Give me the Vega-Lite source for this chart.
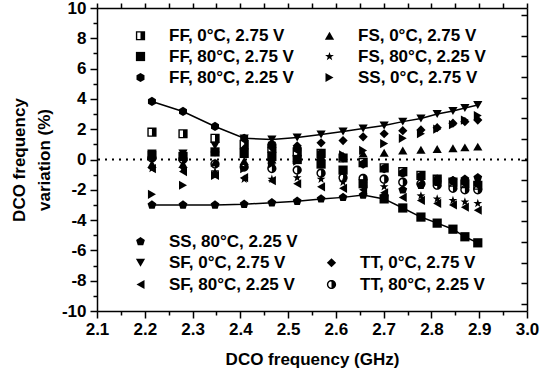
{
"$schema": "https://vega.github.io/schema/vega-lite/v6.json",
"width": 430, "height": 303,
"autosize": {"type": "none"},
"padding": {"left": 97, "top": 8, "right": 23, "bottom": 64},
"background": "white",
"datasets": {
"pts": [
{"x":2.215,"y":1.8,"s":"FF, 0°C, 2.75 V"},{"x":2.28,"y":1.7,"s":"FF, 0°C, 2.75 V"},{"x":2.347,"y":1.4,"s":"FF, 0°C, 2.75 V"},{"x":2.408,"y":1.0,"s":"FF, 0°C, 2.75 V"},{"x":2.466,"y":0.75,"s":"FF, 0°C, 2.75 V"},{"x":2.519,"y":0.5,"s":"FF, 0°C, 2.75 V"},{"x":2.569,"y":0.4,"s":"FF, 0°C, 2.75 V"},{"x":2.615,"y":0.1,"s":"FF, 0°C, 2.75 V"},{"x":2.657,"y":-0.2,"s":"FF, 0°C, 2.75 V"},{"x":2.701,"y":-0.55,"s":"FF, 0°C, 2.75 V"},{"x":2.74,"y":-0.8,"s":"FF, 0°C, 2.75 V"},{"x":2.778,"y":-1.05,"s":"FF, 0°C, 2.75 V"},{"x":2.812,"y":-1.3,"s":"FF, 0°C, 2.75 V"},{"x":2.845,"y":-1.5,"s":"FF, 0°C, 2.75 V"},{"x":2.87,"y":-1.6,"s":"FF, 0°C, 2.75 V"},{"x":2.897,"y":-1.7,"s":"FF, 0°C, 2.75 V"},
{"x":2.215,"y":0.3,"s":"FF, 80°C, 2.75 V"},{"x":2.28,"y":0.2,"s":"FF, 80°C, 2.75 V"},{"x":2.347,"y":0.5,"s":"FF, 80°C, 2.75 V"},{"x":2.408,"y":0.4,"s":"FF, 80°C, 2.75 V"},{"x":2.466,"y":0.2,"s":"FF, 80°C, 2.75 V"},{"x":2.519,"y":0.0,"s":"FF, 80°C, 2.75 V"},{"x":2.569,"y":-0.3,"s":"FF, 80°C, 2.75 V"},{"x":2.615,"y":-0.7,"s":"FF, 80°C, 2.75 V"},{"x":2.657,"y":-1.6,"s":"FF, 80°C, 2.75 V"},{"x":2.701,"y":-2.6,"s":"FF, 80°C, 2.75 V"},{"x":2.74,"y":-3.2,"s":"FF, 80°C, 2.75 V"},{"x":2.778,"y":-3.8,"s":"FF, 80°C, 2.75 V"},{"x":2.812,"y":-4.2,"s":"FF, 80°C, 2.75 V"},{"x":2.845,"y":-4.6,"s":"FF, 80°C, 2.75 V"},{"x":2.87,"y":-5.1,"s":"FF, 80°C, 2.75 V"},{"x":2.897,"y":-5.5,"s":"FF, 80°C, 2.75 V"},
{"x":2.215,"y":3.83,"s":"FF, 80°C, 2.25 V"},{"x":2.28,"y":3.17,"s":"FF, 80°C, 2.25 V"},{"x":2.347,"y":2.18,"s":"FF, 80°C, 2.25 V"},{"x":2.408,"y":1.4,"s":"FF, 80°C, 2.25 V"},{"x":2.466,"y":1.0,"s":"FF, 80°C, 2.25 V"},{"x":2.519,"y":0.7,"s":"FF, 80°C, 2.25 V"},{"x":2.569,"y":0.4,"s":"FF, 80°C, 2.25 V"},{"x":2.615,"y":0.1,"s":"FF, 80°C, 2.25 V"},{"x":2.657,"y":-0.3,"s":"FF, 80°C, 2.25 V"},{"x":2.701,"y":-0.6,"s":"FF, 80°C, 2.25 V"},{"x":2.74,"y":-0.9,"s":"FF, 80°C, 2.25 V"},{"x":2.778,"y":-1.1,"s":"FF, 80°C, 2.25 V"},{"x":2.812,"y":-1.3,"s":"FF, 80°C, 2.25 V"},{"x":2.845,"y":-1.4,"s":"FF, 80°C, 2.25 V"},{"x":2.87,"y":-1.5,"s":"FF, 80°C, 2.25 V"},{"x":2.897,"y":-1.6,"s":"FF, 80°C, 2.25 V"},
{"x":2.215,"y":-0.3,"s":"FS, 0°C, 2.75 V"},{"x":2.28,"y":-0.3,"s":"FS, 0°C, 2.75 V"},{"x":2.347,"y":-0.2,"s":"FS, 0°C, 2.75 V"},{"x":2.408,"y":-0.1,"s":"FS, 0°C, 2.75 V"},{"x":2.466,"y":0.0,"s":"FS, 0°C, 2.75 V"},{"x":2.519,"y":0.1,"s":"FS, 0°C, 2.75 V"},{"x":2.569,"y":0.2,"s":"FS, 0°C, 2.75 V"},{"x":2.615,"y":0.25,"s":"FS, 0°C, 2.75 V"},{"x":2.657,"y":0.4,"s":"FS, 0°C, 2.75 V"},{"x":2.701,"y":0.45,"s":"FS, 0°C, 2.75 V"},{"x":2.74,"y":0.6,"s":"FS, 0°C, 2.75 V"},{"x":2.778,"y":0.65,"s":"FS, 0°C, 2.75 V"},{"x":2.812,"y":0.7,"s":"FS, 0°C, 2.75 V"},{"x":2.845,"y":0.75,"s":"FS, 0°C, 2.75 V"},{"x":2.87,"y":0.8,"s":"FS, 0°C, 2.75 V"},{"x":2.897,"y":0.85,"s":"FS, 0°C, 2.75 V"},
{"x":2.215,"y":-0.6,"s":"FS, 80°C, 2.25 V"},{"x":2.28,"y":-0.6,"s":"FS, 80°C, 2.25 V"},{"x":2.347,"y":-0.8,"s":"FS, 80°C, 2.25 V"},{"x":2.408,"y":-1.3,"s":"FS, 80°C, 2.25 V"},{"x":2.466,"y":-1.3,"s":"FS, 80°C, 2.25 V"},{"x":2.519,"y":-1.2,"s":"FS, 80°C, 2.25 V"},{"x":2.569,"y":-1.3,"s":"FS, 80°C, 2.25 V"},{"x":2.615,"y":-1.5,"s":"FS, 80°C, 2.25 V"},{"x":2.657,"y":-1.6,"s":"FS, 80°C, 2.25 V"},{"x":2.701,"y":-1.8,"s":"FS, 80°C, 2.25 V"},{"x":2.74,"y":-2.0,"s":"FS, 80°C, 2.25 V"},{"x":2.778,"y":-2.4,"s":"FS, 80°C, 2.25 V"},{"x":2.812,"y":-2.6,"s":"FS, 80°C, 2.25 V"},{"x":2.845,"y":-2.7,"s":"FS, 80°C, 2.25 V"},{"x":2.87,"y":-2.8,"s":"FS, 80°C, 2.25 V"},{"x":2.897,"y":-2.9,"s":"FS, 80°C, 2.25 V"},
{"x":2.215,"y":-2.3,"s":"SS, 0°C, 2.75 V"},{"x":2.28,"y":-1.7,"s":"SS, 0°C, 2.75 V"},{"x":2.347,"y":-1.05,"s":"SS, 0°C, 2.75 V"},{"x":2.408,"y":-0.6,"s":"SS, 0°C, 2.75 V"},{"x":2.466,"y":-0.3,"s":"SS, 0°C, 2.75 V"},{"x":2.519,"y":-0.1,"s":"SS, 0°C, 2.75 V"},{"x":2.569,"y":0.1,"s":"SS, 0°C, 2.75 V"},{"x":2.615,"y":0.3,"s":"SS, 0°C, 2.75 V"},{"x":2.657,"y":0.6,"s":"SS, 0°C, 2.75 V"},{"x":2.701,"y":1.05,"s":"SS, 0°C, 2.75 V"},{"x":2.74,"y":1.4,"s":"SS, 0°C, 2.75 V"},{"x":2.778,"y":1.7,"s":"SS, 0°C, 2.75 V"},{"x":2.812,"y":2.0,"s":"SS, 0°C, 2.75 V"},{"x":2.845,"y":2.3,"s":"SS, 0°C, 2.75 V"},{"x":2.87,"y":2.6,"s":"SS, 0°C, 2.75 V"},{"x":2.897,"y":2.9,"s":"SS, 0°C, 2.75 V"},
{"x":2.215,"y":-3.0,"s":"SS, 80°C, 2.25 V"},{"x":2.28,"y":-3.0,"s":"SS, 80°C, 2.25 V"},{"x":2.347,"y":-3.0,"s":"SS, 80°C, 2.25 V"},{"x":2.408,"y":-2.95,"s":"SS, 80°C, 2.25 V"},{"x":2.466,"y":-2.85,"s":"SS, 80°C, 2.25 V"},{"x":2.519,"y":-2.75,"s":"SS, 80°C, 2.25 V"},{"x":2.569,"y":-2.6,"s":"SS, 80°C, 2.25 V"},{"x":2.615,"y":-2.5,"s":"SS, 80°C, 2.25 V"},{"x":2.657,"y":-2.35,"s":"SS, 80°C, 2.25 V"},{"x":2.701,"y":-2.45,"s":"SS, 80°C, 2.25 V"},{"x":2.74,"y":-2.0,"s":"SS, 80°C, 2.25 V"},{"x":2.778,"y":-1.7,"s":"SS, 80°C, 2.25 V"},{"x":2.812,"y":-1.5,"s":"SS, 80°C, 2.25 V"},{"x":2.845,"y":-1.4,"s":"SS, 80°C, 2.25 V"},{"x":2.87,"y":-1.3,"s":"SS, 80°C, 2.25 V"},{"x":2.897,"y":-1.2,"s":"SS, 80°C, 2.25 V"},
{"x":2.215,"y":0.4,"s":"SF, 0°C, 2.75 V"},{"x":2.28,"y":0.4,"s":"SF, 0°C, 2.75 V"},{"x":2.347,"y":0.9,"s":"SF, 0°C, 2.75 V"},{"x":2.408,"y":1.39,"s":"SF, 0°C, 2.75 V"},{"x":2.466,"y":1.32,"s":"SF, 0°C, 2.75 V"},{"x":2.519,"y":1.45,"s":"SF, 0°C, 2.75 V"},{"x":2.569,"y":1.65,"s":"SF, 0°C, 2.75 V"},{"x":2.615,"y":1.85,"s":"SF, 0°C, 2.75 V"},{"x":2.657,"y":2.05,"s":"SF, 0°C, 2.75 V"},{"x":2.701,"y":2.24,"s":"SF, 0°C, 2.75 V"},{"x":2.74,"y":2.5,"s":"SF, 0°C, 2.75 V"},{"x":2.778,"y":2.7,"s":"SF, 0°C, 2.75 V"},{"x":2.812,"y":3.0,"s":"SF, 0°C, 2.75 V"},{"x":2.845,"y":3.2,"s":"SF, 0°C, 2.75 V"},{"x":2.87,"y":3.4,"s":"SF, 0°C, 2.75 V"},{"x":2.897,"y":3.6,"s":"SF, 0°C, 2.75 V"},
{"x":2.215,"y":-0.6,"s":"SF, 80°C, 2.25 V"},{"x":2.28,"y":-0.8,"s":"SF, 80°C, 2.25 V"},{"x":2.347,"y":-1.05,"s":"SF, 80°C, 2.25 V"},{"x":2.408,"y":-1.2,"s":"SF, 80°C, 2.25 V"},{"x":2.466,"y":-1.4,"s":"SF, 80°C, 2.25 V"},{"x":2.519,"y":-1.6,"s":"SF, 80°C, 2.25 V"},{"x":2.569,"y":-1.8,"s":"SF, 80°C, 2.25 V"},{"x":2.615,"y":-1.9,"s":"SF, 80°C, 2.25 V"},{"x":2.657,"y":-2.0,"s":"SF, 80°C, 2.25 V"},{"x":2.701,"y":-2.2,"s":"SF, 80°C, 2.25 V"},{"x":2.74,"y":-2.5,"s":"SF, 80°C, 2.25 V"},{"x":2.778,"y":-2.7,"s":"SF, 80°C, 2.25 V"},{"x":2.812,"y":-2.9,"s":"SF, 80°C, 2.25 V"},{"x":2.845,"y":-3.0,"s":"SF, 80°C, 2.25 V"},{"x":2.87,"y":-3.15,"s":"SF, 80°C, 2.25 V"},{"x":2.897,"y":-3.35,"s":"SF, 80°C, 2.25 V"},
{"x":2.215,"y":0.1,"s":"TT, 0°C, 2.75 V"},{"x":2.28,"y":0.1,"s":"TT, 0°C, 2.75 V"},{"x":2.347,"y":0.5,"s":"TT, 0°C, 2.75 V"},{"x":2.408,"y":0.7,"s":"TT, 0°C, 2.75 V"},{"x":2.466,"y":0.8,"s":"TT, 0°C, 2.75 V"},{"x":2.519,"y":0.9,"s":"TT, 0°C, 2.75 V"},{"x":2.569,"y":1.1,"s":"TT, 0°C, 2.75 V"},{"x":2.615,"y":1.25,"s":"TT, 0°C, 2.75 V"},{"x":2.657,"y":1.5,"s":"TT, 0°C, 2.75 V"},{"x":2.701,"y":1.7,"s":"TT, 0°C, 2.75 V"},{"x":2.74,"y":1.9,"s":"TT, 0°C, 2.75 V"},{"x":2.778,"y":1.95,"s":"TT, 0°C, 2.75 V"},{"x":2.812,"y":2.1,"s":"TT, 0°C, 2.75 V"},{"x":2.845,"y":2.4,"s":"TT, 0°C, 2.75 V"},{"x":2.87,"y":2.5,"s":"TT, 0°C, 2.75 V"},{"x":2.897,"y":2.6,"s":"TT, 0°C, 2.75 V"},
{"x":2.215,"y":0.1,"s":"TT, 80°C, 2.25 V"},{"x":2.28,"y":0.0,"s":"TT, 80°C, 2.25 V"},{"x":2.347,"y":-0.3,"s":"TT, 80°C, 2.25 V"},{"x":2.408,"y":-0.5,"s":"TT, 80°C, 2.25 V"},{"x":2.466,"y":-0.6,"s":"TT, 80°C, 2.25 V"},{"x":2.519,"y":-0.7,"s":"TT, 80°C, 2.25 V"},{"x":2.569,"y":-0.9,"s":"TT, 80°C, 2.25 V"},{"x":2.615,"y":-1.2,"s":"TT, 80°C, 2.25 V"},{"x":2.657,"y":-1.25,"s":"TT, 80°C, 2.25 V"},{"x":2.701,"y":-1.3,"s":"TT, 80°C, 2.25 V"},{"x":2.74,"y":-1.5,"s":"TT, 80°C, 2.25 V"},{"x":2.778,"y":-1.6,"s":"TT, 80°C, 2.25 V"},{"x":2.812,"y":-1.7,"s":"TT, 80°C, 2.25 V"},{"x":2.845,"y":-1.9,"s":"TT, 80°C, 2.25 V"},{"x":2.87,"y":-2.0,"s":"TT, 80°C, 2.25 V"},{"x":2.897,"y":-2.0,"s":"TT, 80°C, 2.25 V"}
]
},
"data": {"name": "pts"},
"config": {
  "font": "Liberation Sans",
  "view": {"stroke": null},
  "axis": {"domainColor": "black", "domainWidth": 1.5, "tickColor": "black", "tickWidth": 1.5, "labelFont": "Liberation Sans", "labelFontSize": 17, "labelFontWeight": "bold", "labelColor": "black", "titleFont": "Liberation Sans", "titleFontSize": 17, "titleFontWeight": "bold", "titleColor": "black", "grid": false, "labelOverlap": false, "labelBound": false, "labelFlush": false},
  "legend": {"labelFont": "Liberation Sans", "labelFontSize": 17, "labelFontWeight": "bold", "labelColor": "black", "symbolFillColor": "black", "symbolStrokeColor": "black", "symbolStrokeWidth": 0, "symbolSize": 85, "symbolOpacity": 1, "padding": 0, "labelOffset": 20, "rowPadding": 3, "labelLimit": 300}
},
"layer": [
  {
    "data": {"values": [{"y": 0}]},
    "mark": {"type": "rule", "strokeDash": [2, 5], "strokeWidth": 2, "color": "black"},
    "encoding": {"y": {"field": "y", "type": "quantitative", "scale": {"domain": [-10, 10], "nice": false}, "axis": null}}
  },
  {
    "transform": [{"aggregate": [{"op": "max", "field": "y", "as": "ymax"}], "groupby": ["x"]}],
    "mark": {"type": "line", "color": "black", "strokeWidth": 1.5},
    "encoding": {
      "x": {"field": "x", "type": "quantitative", "scale": {"domain": [2.1, 3.0], "nice": false, "zero": false},
        "axis": {"orient": "bottom", "values": [2.1,2.15,2.2,2.25,2.3,2.35,2.4,2.45,2.5,2.55,2.6,2.65,2.7,2.75,2.8,2.85,2.9,2.95,3.0],
          "labelExpr": "round(datum.value*20)%2==0 ? format(datum.value,'.1f') : ''",
          "tickSize": {"condition": {"test": "round(datum.value*20)%2==0", "value": 7}, "value": 4},
          "labelPadding": 3, "title": "DCO frequency (GHz)", "titlePadding": 14}},
      "y": {"field": "ymax", "type": "quantitative", "scale": {"domain": [-10, 10], "nice": false},
        "axis": {"orient": "left", "values": [-10,-9,-8,-7,-6,-5,-4,-3,-2,-1,0,1,2,3,4,5,6,7,8,9,10],
          "labelExpr": "round(datum.value)%2==0 ? (datum.value < 0 ? '-' + abs(datum.value) : '' + datum.value) : ''",
          "tickSize": {"condition": {"test": "round(datum.value)%2==0", "value": 7}, "value": 4},
          "labelPadding": 4, "title": ["DCO frequency", "variation (%)"], "titlePadding": 8, "titleLineHeight": 25}}
    }
  },
  {
    "transform": [{"aggregate": [{"op": "min", "field": "y", "as": "ymin"}], "groupby": ["x"]}],
    "mark": {"type": "line", "color": "black", "strokeWidth": 1.5},
    "encoding": {
      "x": {"field": "x", "type": "quantitative", "scale": {"domain": [2.1, 3.0], "nice": false, "zero": false}, "axis": null},
      "y": {"field": "ymin", "type": "quantitative", "scale": {"domain": [-10, 10], "nice": false}, "axis": null}
    }
  },
  {
    "transform": [{"filter": {"field": "s", "oneOf": ["FF, 0°C, 2.75 V", "FS, 0°C, 2.75 V", "FF, 80°C, 2.75 V", "FS, 80°C, 2.25 V", "FF, 80°C, 2.25 V", "SS, 0°C, 2.75 V"]}}],
    "mark": {"type": "point", "filled": true, "color": "black", "size": 85, "opacity": 1, "strokeWidth": 0},
    "encoding": {
      "x": {"field": "x", "type": "quantitative", "scale": {"domain": [2.1, 3.0], "nice": false, "zero": false}, "axis": null},
      "y": {"field": "y", "type": "quantitative", "scale": {"domain": [-10, 10], "nice": false}, "axis": null},
      "shape": {"field": "s", "type": "nominal",
        "scale": {"domain": ["FF, 0°C, 2.75 V", "FF, 80°C, 2.75 V", "FF, 80°C, 2.25 V", "FS, 0°C, 2.75 V", "FS, 80°C, 2.25 V", "SS, 0°C, 2.75 V"],
          "range": ["M0,-1H1V1H0Z M-1,-1H0V-0.7H-0.7V0.7H0V1H-1Z", "square", "M0,-1L0.866,-0.5L0.866,0.5L0,1L-0.866,0.5L-0.866,-0.5Z", "triangle-up", "M0,-1L0.235,-0.324L0.951,-0.309L0.38,0.124L0.588,0.809L0,0.4L-0.588,0.809L-0.38,0.124L-0.951,-0.309L-0.235,-0.324Z", "triangle-right"]},
        "legend": {"title": null, "orient": "none", "legendX": 35, "legendY": 19, "columns": 2, "columnPadding": 27}}
    }
  },
  {
    "transform": [{"filter": {"field": "s", "equal": "SS, 80°C, 2.25 V"}}],
    "mark": {"type": "point", "filled": true, "color": "black", "size": 85, "opacity": 1, "strokeWidth": 0},
    "encoding": {
      "x": {"field": "x", "type": "quantitative", "scale": {"domain": [2.1, 3.0], "nice": false, "zero": false}, "axis": null},
      "y": {"field": "y", "type": "quantitative", "scale": {"domain": [-10, 10], "nice": false}, "axis": null},
      "shape": {"field": "s", "type": "nominal",
        "scale": {"domain": ["SS, 80°C, 2.25 V"], "range": ["M0,-1L0.951,-0.309L0.588,0.809L-0.588,0.809L-0.951,-0.309Z"]},
        "legend": {"title": null, "orient": "none", "legendX": 35, "legendY": 225}}
    }
  },
  {
    "transform": [{"filter": {"field": "s", "oneOf": ["SF, 0°C, 2.75 V", "TT, 0°C, 2.75 V", "SF, 80°C, 2.25 V", "TT, 80°C, 2.25 V"]}}],
    "mark": {"type": "point", "filled": true, "color": "black", "size": 85, "opacity": 1, "strokeWidth": 0},
    "encoding": {
      "x": {"field": "x", "type": "quantitative", "scale": {"domain": [2.1, 3.0], "nice": false, "zero": false}, "axis": null},
      "y": {"field": "y", "type": "quantitative", "scale": {"domain": [-10, 10], "nice": false}, "axis": null},
      "shape": {"field": "s", "type": "nominal",
        "scale": {"domain": ["SF, 0°C, 2.75 V", "SF, 80°C, 2.25 V", "TT, 0°C, 2.75 V", "TT, 80°C, 2.25 V"],
          "range": ["triangle-down", "triangle-left", "diamond", "M0,-1A1,1,0,0,1,0,1Z M0,-1A1,1,0,0,0,0,1L0,0.7A0.7,0.7,0,0,1,0,-0.7Z"]},
        "legend": {"title": null, "orient": "none", "legendX": 35, "legendY": 246, "columns": 2, "columnPadding": 28, "rowPadding": 4}}
    }
  },
  {
    "mark": {"type": "point", "opacity": 0},
    "encoding": {
      "x": {"field": "x", "type": "quantitative", "scale": {"domain": [2.1, 3.0], "nice": false, "zero": false},
        "axis": {"orient": "top", "values": [2.1,2.15,2.2,2.25,2.3,2.35,2.4,2.45,2.5,2.55,2.6,2.65,2.7,2.75,2.8,2.85,2.9,2.95,3.0], "labels": false, "tickSize": 5, "title": null}},
      "y": {"field": "y", "type": "quantitative", "scale": {"domain": [-10, 10], "nice": false},
        "axis": {"orient": "right", "values": [-9.52,-8.16,-6.8,-5.44,-4.08,-2.72,-1.36,0,1.36,2.72,4.08,5.44,6.8,8.16,9.52], "labels": false, "tickSize": -6, "title": null}}
    }
  }
],
"resolve": {"scale": {"shape": "independent"}, "legend": {"shape": "independent"}, "axis": {"x": "independent", "y": "independent"}}
}
